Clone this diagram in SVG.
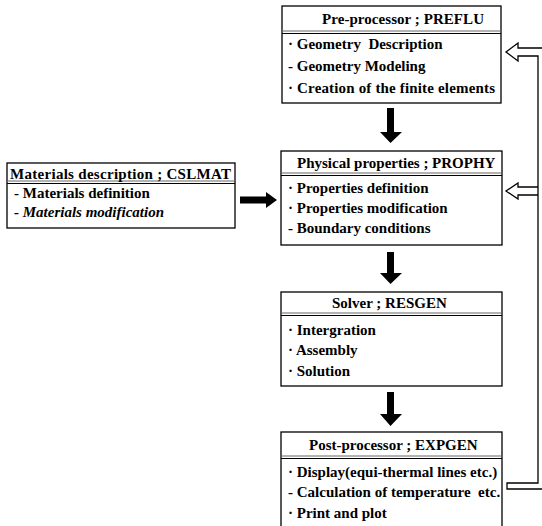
<svg xmlns="http://www.w3.org/2000/svg" width="542" height="526" viewBox="0 0 542 526">
<style>
.box{fill:#fff;stroke:#000;stroke-width:1.3}
.sep{stroke:#000;stroke-width:1.1}
.sep2{stroke:#666;stroke-width:1}
text{font-family:"Liberation Serif","Times New Roman",serif;font-size:15px;font-weight:bold;fill:#000}
.it{font-style:italic}
.arr{fill:#000}
.fb{fill:none;stroke:#000;stroke-width:1.3}
</style>
<rect width="542" height="526" fill="#fff"/>
<g id="pre">
<rect class="box" x="282" y="6" width="219" height="97"/>
<line class="sep2" x1="282" y1="31" x2="501" y2="31"/>
<line class="sep" x1="282" y1="33.5" x2="501" y2="33.5"/>
<text x="322" y="24" textLength="162" lengthAdjust="spacing">Pre-processor ; PREFLU</text>
<text x="288" y="49" xml:space="preserve">· Geometry  Description</text>
<text x="288" y="71">- Geometry Modeling</text>
<text x="288" y="93" textLength="207" lengthAdjust="spacing">· Creation of the finite elements</text>
</g>
<g id="phys">
<rect class="box" x="281" y="151" width="221" height="94"/>
<line class="sep2" x1="281" y1="173" x2="502" y2="173"/>
<line class="sep" x1="281" y1="175.5" x2="502" y2="175.5"/>
<text x="297" y="168">Physical properties ; PROPHY</text>
<text x="288" y="193">· Properties definition</text>
<text x="288" y="213">· Properties modification</text>
<text x="288" y="233">- Boundary conditions</text>
</g>
<g id="solver">
<rect class="box" x="281" y="292" width="221" height="94"/>
<line class="sep2" x1="281" y1="313" x2="502" y2="313"/>
<line class="sep" x1="281" y1="315.5" x2="502" y2="315.5"/>
<text x="332" y="308">Solver ; RESGEN</text>
<text x="288" y="335">· Intergration</text>
<text x="288" y="355">· Assembly</text>
<text x="288" y="376">· Solution</text>
</g>
<g id="post">
<rect class="box" x="281" y="432" width="221" height="96"/>
<line class="sep2" x1="281" y1="456" x2="502" y2="456"/>
<line class="sep" x1="281" y1="458.5" x2="502" y2="458.5"/>
<text x="309" y="450">Post-processor ; EXPGEN</text>
<text x="288" y="477">· Display(equi-thermal lines etc.)</text>
<text x="288" y="497" xml:space="preserve">- Calculation of temperature  etc.</text>
<text x="288" y="518">· Print and plot</text>
</g>
<g id="mat">
<rect class="box" x="7" y="163" width="228" height="65"/>
<line class="sep2" x1="7" y1="181" x2="235" y2="181"/>
<line class="sep" x1="7" y1="183.5" x2="235" y2="183.5"/>
<text x="10" y="179" textLength="221" lengthAdjust="spacing">Materials description ; CSLMAT</text>
<text x="14" y="198">- Materials definition</text>
<text x="14" y="217" class="it">- Materials modification</text>
</g>
<g id="connectors">
<path class="arr" d="M387,108 H394 V132 H402 L390.5,143 L380,132 H387 Z"/>
<path class="arr" d="M387,252 H394 V273 H402 L390.5,284 L380,273 H387 Z"/>
<path class="arr" d="M387,392 H394 V414 H402 L390.5,426 L380,414 H387 Z"/>
<path class="arr" d="M240,196.5 H266 V192 L277,200 L266,208 V203.5 H240 Z"/>
<path class="fb" d="M542,48 H518 V43 L506,52 L518,61 V56 H538 V483 H507 V489 H542"/>
<path class="fb" d="M538,187 H518 V183 L506,191 L518,199 V195 H538"/>
</g>
</svg>
